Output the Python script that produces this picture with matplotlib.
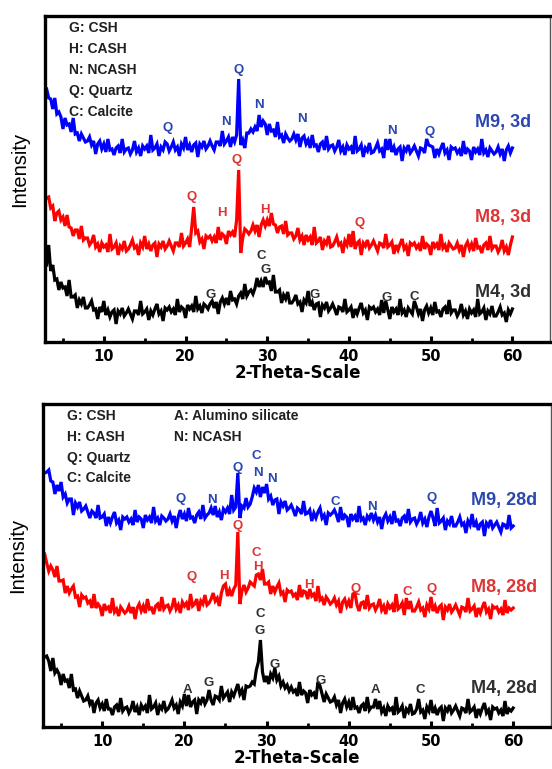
import numpy as np
import matplotlib
matplotlib.use("Agg")
import matplotlib.pyplot as plt
from matplotlib.ticker import MultipleLocator

# 2-theta scan, 0.25 deg step, 3..60
two_theta = np.arange(3.0, 60.001, 0.25)

# ---- 3 day patterns (intensity above own baseline, a.u.) ----
m9_3d = [61, 52, 51, 41, 52, 36, 38, 33, 21, 32, 25, 26, 18, 32, 16, 17, 9, 16, 12, 8,
         9, 13, 5, 9, -4, 6, 9, 1, 6, -2, 11, 0, 1, -5, 2, 4, -3, 11, -2, 1,
         2, -4, 0, 9, -2, 2, -6, 4, 1, 4, -3, 15, 0, 2, 6, -6, 3, 0, 8, 6,
         -1, 3, 8, 0, 3, -6, 6, 2, 13, 0, 5, -2, 5, 7, -7, 6, 3, 9, 1, 4,
         9, 4, 0, 8, 8, 4, 19, 6, 9, 13, 3, 13, 8, 15, 71, 5, 10, 2, 17, 17,
         21, 18, 23, 19, 35, 23, 29, 26, 15, 26, 19, 20, 13, 28, 13, 15, 7, 16, 12, 9,
         11, 16, 10, 16, 3, 12, 14, 6, 10, 2, 15, 4, 5, -2, 6, 8, 0, 14, 1, 4,
         5, -1, 3, 10, -1, 3, -5, 5, 1, 3, -4, 14, -1, 1, 5, -7, 2, -1, 7, -3,
         -2, 2, 7, -1, 1, -8, 11, 0, 11, -2, 3, -5, 1, 3, -11, 2, -1, 5, -3, 0,
         4, -1, -6, 2, 1, -3, 11, 5, 4, 3, -8, 1, -4, 2, 7, -3, 0, -10, 3, 1,
         2, -3, 0, -6, 9, -4, 1, -1, -10, 3, -2, 1, -5, 11, -3, 0, -7, 2, -1, -4,
         -2, 3, -4, 1, -11, 0, 4, -3, 2]
m8_3d = [49, 50, 39, 41, 26, 34, 36, 27, 30, 21, 32, 20, 19, 11, 17, 17, 8, 21, 7, 9,
         9, 2, 5, 12, 0, 3, -5, 4, 0, 2, -5, 13, -2, 0, 4, -8, 1, -2, 6, -4,
         -2, 2, 7, -1, 1, -8, 4, 0, 11, -2, 3, -4, 2, 4, -10, 3, 0, 6, -2, 1,
         6, 1, -4, 4, 4, 0, 14, 1, 4, 8, 0, 19, 40, 14, 16, 5, 8, -2, 11, 9,
         11, 6, 10, 4, 20, 7, 13, 11, 3, 16, 12, 15, 10, 27, 77, -6, 9, 18, 16, 13,
         16, 22, 16, 22, 10, 22, 27, 21, 27, 21, 34, 23, 22, 14, 20, 21, 13, 26, 12, 14,
         14, 8, 11, 19, 7, 11, 2, 12, 7, 10, 2, 20, 4, 6, 10, -3, 6, 3, 11, 0,
         1, 5, 10, 2, 4, -6, 6, 2, 13, 0, 16, -2, 4, 6, -8, 4, 1, 7, -1, 2,
         6, 1, -4, 4, 3, -1, 13, 0, 2, 5, -7, 2, -3, 3, 8, -2, 1, -9, 4, 2,
         4, -1, 2, -4, 11, -2, 3, 1, -8, 5, 0, 3, -3, 13, -1, 2, -5, 4, 1, -2,
         -1, 4, -3, 2, -10, 1, 5, -2, 3, -4, 9, -1, 0, -6, 2, 4, -3, 11, -2, 1,
         1, -5, -1, 7, -4, 0, -8, 2, 10]
m4_3d = [48, 68, 42, 48, 33, 34, 23, 31, 25, 26, 17, 33, 16, 16, 18, 5, 13, 9, 16, 5,
         5, 8, 12, 3, 4, -6, 6, 1, 12, -2, 3, -4, 1, 3, -11, 2, -1, 5, -3, 0,
         4, -1, -6, 2, 2, -2, 12, -1, 1, 4, -7, 2, -2, 4, 9, -1, 2, -8, 5, 3,
         6, 1, 4, -2, 14, 1, 6, 4, -5, 8, 4, 7, 1, 17, 4, 7, 0, 9, 7, 4,
         9, 12, 5, 11, -1, 11, 15, 9, 15, 8, 22, 13, 14, 9, 17, 20, 14, 29, 17, 21,
         23, 19, 25, 35, 26, 32, 26, 36, 30, 31, 22, 38, 21, 21, 23, 10, 18, 14, 21, 10,
         10, 13, 18, 9, 11, 1, 13, 10, 22, 7, 11, 3, 9, 10, -4, 8, 5, 11, 2, 5,
         9, 4, -2, 6, 5, 1, 14, 1, 3, 6, -5, 4, -1, 5, 10, 0, 3, -7, 6, 4,
         6, 1, 4, -2, 13, 0, 12, 3, -6, 6, 1, 4, -2, 14, 0, 3, -4, 5, 2, -1,
         12, 6, -1, 4, -8, 3, 7, 0, 5, -2, 11, 1, 2, -4, 4, 6, -1, 13, 0, 3,
         3, -3, 1, 9, -2, 2, -6, 4, 0, 3, -4, 14, -1, 1, 5, -7, 2, -1, 7, -3,
         -3, 1, 6, -2, 0, -9, 3, -1, 4]

# ---- 28 day patterns ----
m9_28d = [47, 48, 50, 39, 38, 26, 35, 29, 38, 23, 26, 17, 21, 21, 5, 17, 13, 18, 9, 11,
          14, 8, 2, 9, 7, 2, 15, 2, 3, 6, -6, 3, -3, 3, 8, -3, 0, -10, 3, 1,
          3, -2, 1, -5, 10, -2, 3, 1, -8, 5, 0, 3, -3, 13, -1, 2, -5, 4, 2, -1,
          1, 6, -1, 4, -8, 3, 10, 1, 6, -1, 12, 2, 3, -3, 5, 8, 1, 15, 2, 5,
          7, 12, 5, 14, 3, 8, 0, 11, 8, 12, 6, 25, 10, 13, 47, 2, 14, 12, 22, 13,
          16, 23, 32, 28, 35, 23, 33, 27, 36, 21, 24, 15, 20, 21, 6, 18, 14, 19, 10, 12,
          15, 10, 4, 12, 10, 6, 19, 6, 7, 10, -1, 7, 2, 8, 12, 2, 5, -5, 7, 5,
          7, 10, 5, -2, 13, 0, 5, 3, -7, 6, 1, 4, -2, 14, 0, 2, -5, 4, 1, 7,
          0, 5, -2, 3, -9, 2, 6, -1, 3, -4, 9, -1, 0, -6, 2, 4, -3, 11, -2, 1,
          2, -4, 0, 8, -3, 1, -7, 3, 9, 2, -6, 12, -3, -1, 2, -10, -1, -4, 4, -6,
          -6, -2, 3, -5, -3, -13, -1, -5, 6, -7, -2, -10, -4, -2, -16, -3, -6, 0, -8, -5,
          -2, -7, -12, -4, -5, -9, 5, -8, -6]
m8_28d = [56, 47, 39, 44, 40, 33, 44, 29, 29, 30, 17, 24, 17, 21, 24, 13, 14, 3, 15, 12,
          13, 7, 9, 2, 16, 2, 6, 3, -6, 6, 1, 3, -3, 12, -2, 1, -6, 3, 0, -3,
          -1, 4, -3, 3, -9, 2, 6, -1, 4, -3, 11, 1, 2, -4, 4, 6, -1, 13, 1, 4,
          5, -1, 3, 12, 1, 5, -3, 8, 4, 7, 0, 16, 4, 6, 11, -1, 9, 6, 15, 5,
          7, 11, 17, 9, 12, 4, 17, 24, 26, 14, 20, 14, 21, 25, 78, 6, 19, 25, 18, 22,
          28, 26, 24, 35, 36, 30, 41, 26, 26, 28, 16, 24, 18, 23, 27, 16, 18, 8, 20, 18,
          19, 14, 16, 10, 25, 13, 19, 18, 11, 21, 14, 16, 9, 24, 10, 12, 5, 13, 10, 6,
          8, 12, 5, 9, -3, 8, 11, 4, 9, 2, 16, 17, 5, -1, 7, 8, 1, 15, 2, 5,
          6, 0, 4, 11, 0, 4, -4, 6, 2, 5, -2, 16, 1, 3, 7, -5, 12, 1, 9, -1,
          -1, 3, 8, 0, 2, -7, 5, 1, 13, -1, 4, -3, 3, 5, -10, 3, 0, 6, -2, 1,
          5, 0, -5, 3, 2, -2, 12, -1, 1, 4, -7, 2, -3, 3, 8, -2, 1, -9, 4, 2,
          3, -2, 1, -5, 10, -3, 2, 0, 2]
m4_28d = [55, 56, 51, 41, 54, 39, 42, 38, 27, 38, 31, 32, 24, 38, 22, 23, 14, 21, 16, 11,
          12, 16, 8, 12, -1, 9, 12, 4, 8, 1, 13, 3, 3, -3, 5, 7, 0, 14, 1, 4,
          5, -1, 3, 11, 0, 5, -3, 7, 3, 6, -1, 17, 3, 5, 9, -3, 6, 3, 11, 1,
          3, 7, 12, 4, 7, -2, 10, 6, 18, 6, 17, 5, 10, 12, -2, 12, 9, 15, 8, 12,
          22, 12, 7, 16, 15, 12, 26, 14, 17, 20, 10, 20, 16, 22, 28, 18, 22, 12, 26, 25,
          26, 30, 28, 42, 50, 72, 40, 30, 36, 28, 38, 34, 44, 32, 36, 26, 30, 24, 27, 21,
          25, 20, 22, 16, 30, 17, 21, 19, 9, 22, 17, 19, 13, 30, 26, 18, 10, 18, 14, 10,
          11, 15, 7, 12, -1, 9, 13, 5, 10, 2, 15, 4, 5, -1, 6, 8, 1, 15, 2, 5,
          5, 13, 3, 11, 0, 4, -4, 6, 2, 4, -3, 15, 0, 2, 6, -6, 3, 0, 8, -2,
          -1, 3, 13, 0, 2, -7, 5, 1, 12, -1, 4, -3, 3, 5, -9, 4, 1, 7, -1, 2,
          6, 1, -4, 4, 3, -1, 13, 0, 2, 5, -6, 3, -2, 4, 9, -1, 2, -8, 5, 3,
          4, -1, 2, -4, 11, -2, 3, 1, 4]

sample_names = ["M9", "M8", "M4"]
line_colors = ["#0000ff", "#ff0000", "#000000"]
text_colors = ["#2a46b0", "#dd3535", "#303030"]

panels = [
    {"age": "3d", "series": [m9_3d, m8_3d, m4_3d], "offsets": [192, 95, 29], "ymax": 326,
     "rect": [0.0815, 0.5553, 0.9149, 0.4239],
     "legend": [("G: CSH", 0), ("H: CASH", 0), ("N: NCASH", 0), ("Q: Quartz", 0), ("C: Calcite", 0)],
     "name_y": [219, 124, 49],
     "phases": [
         [("Q", 17.8, 214), ("N", 25.0, 220), ("Q", 26.5, 272), ("N", 29.0, 237),
          ("N", 34.3, 223), ("N", 45.2, 211), ("Q", 49.9, 210)],
         [("Q", 20.7, 145), ("H", 24.5, 129), ("Q", 26.3, 182), ("H", 29.7, 132), ("Q", 41.3, 119)],
         [("G", 23.1, 47), ("C", 29.3, 86), ("G", 29.8, 72), ("G", 35.8, 47),
          ("G", 44.6, 44), ("C", 48.0, 45)]]},
    {"age": "28d", "series": [m9_28d, m8_28d, m4_28d], "offsets": [207, 117, 15], "ymax": 323,
     "rect": [0.0779, 0.0546, 0.9203, 0.4200],
     "legend": [("G: CSH", 0), ("H: CASH", 0), ("Q: Quartz", 0), ("C: Calcite", 0),
                ("A: Alumino silicate", 1), ("N: NCASH", 1)],
     "name_y": [227, 140, 39],
     "phases": [
         [("Q", 19.5, 228), ("N", 23.3, 227), ("Q", 26.5, 259), ("C", 28.8, 271),
          ("N", 29.0, 254), ("N", 30.7, 248), ("C", 38.3, 225), ("N", 42.8, 220), ("Q", 50.1, 229)],
         [("Q", 20.9, 150), ("H", 24.8, 151), ("Q", 26.5, 201), ("C", 28.8, 174),
          ("H", 29.0, 160), ("H", 35.2, 142), ("Q", 40.8, 138), ("C", 47.1, 135), ("Q", 50.1, 138)],
         [("A", 20.4, 37), ("G", 22.9, 44), ("C", 29.2, 113), ("G", 29.2, 96),
          ("G", 31.0, 62), ("G", 36.6, 46), ("A", 43.3, 37), ("C", 48.7, 37)]]},
]

fig = plt.figure(figsize=(5.52, 7.69), dpi=100)
fig.patch.set_facecolor("white")

label_font = "Liberation Sans"

for p in panels:
    ax = fig.add_axes(p["rect"])
    for name, data, off, lc, tc, ny, ph in zip(sample_names, p["series"], p["offsets"],
                                             line_colors, text_colors, p["name_y"], p["phases"]):
        ax.plot(two_theta, np.array(data) + off, color=lc, lw=2.3, solid_joinstyle="miter")
        ax.text(58.9, ny, f"{name}, {p['age']}", color=tc, fontsize=13, fontweight="bold",
                family=label_font, ha="center", va="center")
        for letter, xx, yy in ph:
            ax.text(xx, yy, letter, color=tc, fontsize=9.5, fontweight="bold",
                    family=label_font, ha="center", va="center")

    # phase key in the upper left corner
    col_row = [0, 0]
    for txt, col in p["legend"]:
        r = col_row[col]
        col_row[col] += 1
        x0 = 0.048 if col == 0 else 0.258
        ax.text(x0, 0.962 - r * 0.064, txt, transform=ax.transAxes, fontsize=10,
                fontweight="bold", family=label_font, color="#202020", va="center", ha="left")

    ax.set_xlim(2.8, 64.6)
    ax.set_ylim(0, p["ymax"])
    ax.set_yticks([])
    ax.xaxis.set_major_locator(MultipleLocator(10))
    ax.xaxis.set_minor_locator(MultipleLocator(5))
    ax.tick_params(axis="x", which="major", direction="in", length=4, width=2.2, pad=5,
                   labelsize=10.5)
    ax.tick_params(axis="x", which="minor", direction="in", length=3, width=2)
    for lab in ax.get_xticklabels():
        lab.set_fontweight("bold")
    for s in ["left", "bottom", "top"]:
        ax.spines[s].set_linewidth(2.4)
    ax.spines["right"].set_linewidth(1.0)
    ax.spines["right"].set_color("#555555")
    ax.set_xlabel("2-Theta-Scale", fontsize=12, fontweight="bold", labelpad=0)
    ax.text(-0.05, 0.53, "Intensity", transform=ax.transAxes, rotation=90, fontsize=14.5,
            family=label_font, ha="center", va="center")

fig.savefig("out.png", dpi=100, facecolor="white")
